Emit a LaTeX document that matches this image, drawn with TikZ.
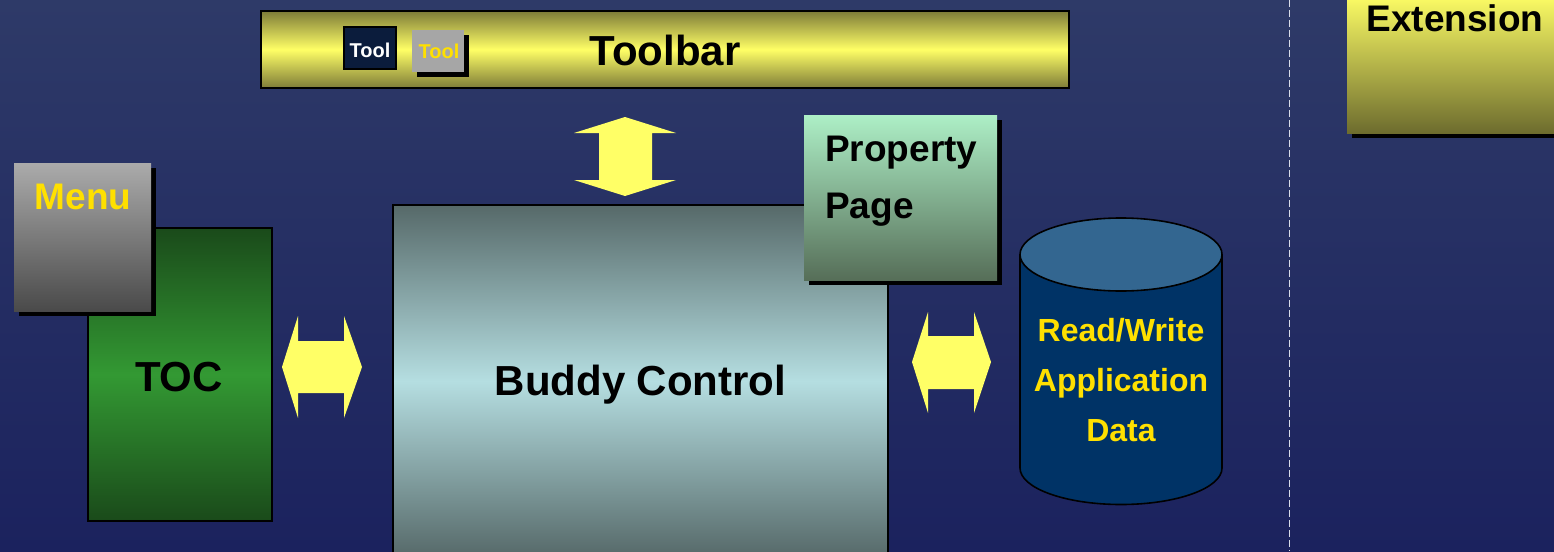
\documentclass[tikz,border=0pt]{standalone}
\usepackage{fontspec}
\setmainfont{Liberation Sans}
\usetikzlibrary{shadows}

\definecolor{bgtop}{HTML}{2E3A68}
\definecolor{bgbot}{HTML}{1B225E}
\definecolor{barolive}{HTML}{7E7C38}
\definecolor{baryellow}{HTML}{FFFF66}
\definecolor{arrowyellow}{HTML}{FFFF66}
\definecolor{labelyellow}{HTML}{FFE000}
\definecolor{tooldark}{HTML}{0B1C3C}
\definecolor{toolgray}{HTML}{A6A6A6}
\definecolor{menutop}{HTML}{ABABAB}
\definecolor{menubot}{HTML}{4A4A4A}
\definecolor{tocdark}{HTML}{1A4A1A}
\definecolor{tocmid}{HTML}{339933}
\definecolor{buddyedge}{HTML}{566969}
\definecolor{buddymid}{HTML}{B5DEE1}
\definecolor{proptop}{HTML}{ADEFC6}
\definecolor{propbot}{HTML}{566E58}
\definecolor{exttop}{HTML}{FFFF66}
\definecolor{extbot}{HTML}{6D6C2E}
\definecolor{dbbody}{HTML}{003366}
\definecolor{dbtop}{HTML}{336690}
\definecolor{sepline}{HTML}{D8DCE8}

\begin{document}
\begin{tikzpicture}[x=1pt,y=-1pt,
  box/.style={rectangle, inner sep=0pt, outer sep=0pt, anchor=north west},
  outlined/.style={draw=black, line width=1.6pt},
  shadowed/.style={drop shadow={shadow xshift=5pt, shadow yshift=-5pt, opacity=1, fill=black}},
  bigtext/.style={font=\bfseries\fontsize{42}{50}\selectfont, inner sep=0pt, anchor=base},
  midtext/.style={font=\bfseries\fontsize{37}{45}\selectfont, inner sep=0pt, anchor=base},
  dbtext/.style={font=\bfseries\fontsize{32}{38}\selectfont, inner sep=0pt, anchor=base, text=labelyellow},
  tooltext/.style={font=\bfseries\fontsize{20}{24}\selectfont, inner sep=0pt, anchor=base},
  biarrow/.style={fill=arrowyellow}]

% background
\useasboundingbox (0,0) rectangle (1554,551);
\fill[top color=bgtop, bottom color=bgbot] (0,0) rectangle (1554,551);

% separator between the host area and the extension area
\coordinate (septop) at (1289,0);
\coordinate (sepbot) at (1289,551);
\draw[sepline, line width=1pt, dash pattern=on 7pt off 3pt] (septop) -- (sepbot);

% toolbar with its two tool buttons
\node[box, outlined, top color=barolive, bottom color=barolive, middle color=baryellow,
      minimum width=808pt, minimum height=77pt] (toolbar) at (261,11) {};
\node[bigtext] (toolbarlabel) at (665,65) {Toolbar};
\node[box, draw=black, line width=1.2pt, fill=tooldark, minimum width=52pt, minimum height=42pt] (tool1) at (344,27) {};
\node[tooltext, text=white] (tool1label) at (370,57) {Tool};
\node[box, fill=toolgray, shadowed, minimum width=52pt, minimum height=42pt] (tool2) at (412,30) {};
\node[tooltext, text=labelyellow] (tool2label) at (439,59) {Tool};

% extension box at the top right
\node[box, top color=exttop, bottom color=extbot, shadowed,
      minimum width=220pt, minimum height=140pt] (extension) at (1347,-7) {};
\node[midtext] (extensionlabel) at (1455,32) {Extension};

% table of contents with the menu on top
\node[box, outlined, top color=tocdark, bottom color=tocdark, middle color=tocmid,
      minimum width=184pt, minimum height=293pt] (toc) at (88,228) {};
\node[bigtext] (toclabel) at (179,391) {TOC};
\node[box, top color=menutop, bottom color=menubot, shadowed,
      minimum width=137pt, minimum height=148pt] (menu) at (14,163) {};
\node[midtext, text=labelyellow] (menulabel) at (83,209) {Menu};

% buddy control with its property page
\node[box, outlined, top color=buddyedge, bottom color=buddyedge, middle color=buddymid,
      minimum width=495pt, minimum height=352pt] (buddy) at (393,205) {};
\node[bigtext] (buddylabel) at (640.5,395) {Buddy Control};
\node[box, top color=proptop, bottom color=propbot, shadowed,
      minimum width=193pt, minimum height=165pt] (property) at (804,115) {};
\node[midtext, anchor=base west] (proplabel1) at (825,161.5) {Property};
\node[midtext, anchor=base west] (proplabel2) at (825,218) {Page};

% data store cylinder
\fill[dbbody] (1020,254.5) rectangle (1222,468);
\fill[dbbody] (1121,468) ellipse[x radius=101, y radius=36.5];
\begin{scope}
  \clip (1000,468) rectangle (1240,530);
  \draw[black, line width=1.6pt] (1121,468) ellipse[x radius=101, y radius=36.5];
\end{scope}
\draw[black, line width=1.6pt] (1020,254.5) -- (1020,468);
\draw[black, line width=1.6pt] (1222,254.5) -- (1222,468);
\draw[black, line width=1.6pt, fill=dbtop] (1121,254.5) ellipse[x radius=101, y radius=36.5];
\node[dbtext] (dbline1) at (1121,341) {Read/Write};
\node[dbtext] (dbline2) at (1121,391) {Application};
\node[dbtext] (dbline3) at (1121,441) {Data};

% two-way arrows between the parts
\fill[biarrow] (625,117) -- (676,133) -- (652,133) -- (652,180) -- (676,180) -- (625,196)
  -- (574,180) -- (599,180) -- (599,133) -- (574,133) -- cycle;
\fill[biarrow] (282,367) -- (298,316) -- (298,341) -- (344,341) -- (344,316) -- (362,367)
  -- (344,418) -- (344,393) -- (298,393) -- (298,418) -- cycle;
\fill[biarrow] (912,362) -- (928,312) -- (928,336) -- (974,336) -- (974,312) -- (991,362)
  -- (974,413) -- (974,389) -- (928,389) -- (928,413) -- cycle;

\end{tikzpicture}
\end{document}
